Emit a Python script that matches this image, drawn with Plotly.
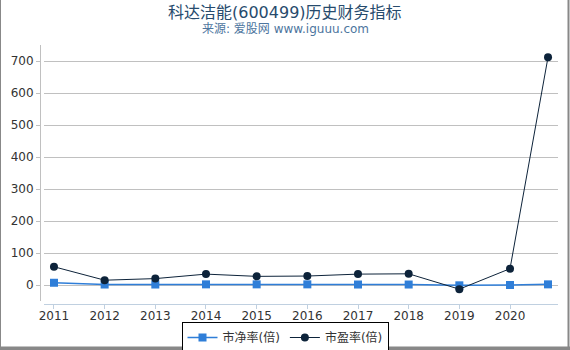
import plotly.graph_objects as go

years = [2011, 2012, 2013, 2014, 2015, 2016, 2017, 2018, 2019, 2020, 2020.75]
pb = [7, 1.5, 1.5, 2, 2, 2, 1.5, 1.5, -1, 0, 2]
pe = [57, 15, 20, 34, 27, 28, 34, 35, -13, 51, 712]
tick_years = [2011, 2012, 2013, 2014, 2015, 2016, 2017, 2018, 2019, 2020]
y_ticks = [0, 100, 200, 300, 400, 500, 600, 700]

W, H = 570, 350
ML, MR, MT, MB = 40, 12, 45, 46
PW, PH = W - ML - MR, H - MT - MB

def px(x):
    return (x - ML) / PW

def py(y):
    return (H - MB - y) / PH

fig = go.Figure()
fig.add_trace(go.Scatter(
    x=years, y=pb, name="市净率(倍)", mode="lines+markers",
    line=dict(color="#2f7ed8", width=1.5),
    marker=dict(symbol="square", size=8, color="#2f7ed8"),
))
fig.add_trace(go.Scatter(
    x=years, y=pe, name="市盈率(倍)", mode="lines+markers",
    line=dict(color="#0d233a", width=1),
    marker=dict(symbol="circle", size=8, color="#0d233a"),
))

font_family = "DejaVu Sans, Noto Sans CJK SC, sans-serif"

shapes = []
border_col = "#888888"
shapes.append(dict(type="line", xref="paper", yref="paper", x0=px(0.5), x1=px(0.5), y0=py(0), y1=py(350), line=dict(color=border_col, width=1)))
shapes.append(dict(type="line", xref="paper", yref="paper", x0=px(568.5), x1=px(568.5), y0=py(0), y1=py(350), line=dict(color=border_col, width=2)))
shapes.append(dict(type="rect", xref="paper", yref="paper", x0=px(0), x1=px(570), y0=py(350), y1=py(346.5), line=dict(width=0), fillcolor=border_col, layer="above"))

annotations = [
    dict(text="科达洁能(600499)历史财务指标", xref="paper", yref="paper",
         x=px(285), y=py(12), xanchor="center", yanchor="middle", showarrow=False,
         font=dict(size=16, color="#274b6d", family=font_family)),
    dict(text="来源: 爱股网 www.iguuu.com", xref="paper", yref="paper",
         x=px(285), y=py(29), xanchor="center", yanchor="middle", showarrow=False,
         font=dict(size=12, color="#4d759e", family=font_family)),
]

fig.update_layout(
    width=W, height=H,
    margin=dict(l=ML, r=MR, t=MT, b=MB, autoexpand=False),
    paper_bgcolor="white", plot_bgcolor="white",
    font=dict(family=font_family, size=12, color="#333333"),
    xaxis=dict(
        domain=[4 / PW, 1], range=[2010.803, 2020.947],
        tickvals=tick_years, ticktext=[str(t) for t in tick_years],
        showgrid=False, zeroline=False,
        showline=True, linecolor="#c0d0e0", linewidth=1,
        ticks="outside", ticklen=4, tickcolor="#c0d0e0",
        ticklabelstandoff=-3,
        anchor="free", position=0,
        tickfont=dict(size=12, color="#333333"),
    ),
    yaxis=dict(
        domain=[3 / PH, 1], range=[-50, 750],
        tickvals=y_ticks,
        showgrid=True, gridcolor="#c0c0c0", gridwidth=1,
        zeroline=False,
        showline=True, linecolor="#c0c0c0", linewidth=1,
        ticks="outside", ticklen=4, tickcolor="#c0c0c0",
        anchor="free", position=0,
        tickfont=dict(size=12, color="#333333"),
    ),
    showlegend=True,
    legend=dict(
        orientation="h", x=px(285), xanchor="center", xref="paper",
        y=py(322), yanchor="top",
        bordercolor="#000000", borderwidth=1, bgcolor="white",
        font=dict(size=12, color="#333333"),
        itemwidth=30, tracegroupgap=0,
    ),
    annotations=annotations,
    shapes=shapes,
)

fig.write_html("out.html")
